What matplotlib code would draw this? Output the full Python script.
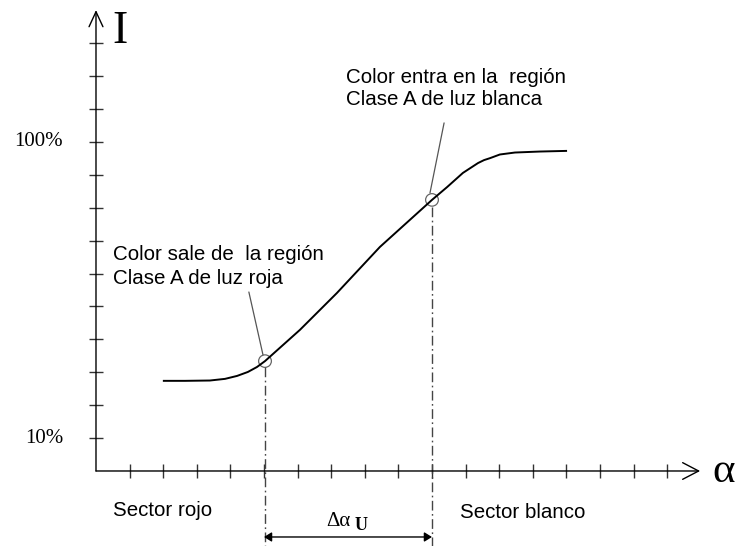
import matplotlib.pyplot as plt
from matplotlib.patches import Circle

# unidades: divisiones de los ejes (marcas)
curve_x = [1.99, 2.65, 3.39, 3.84, 4.20, 4.52, 4.79, 5.03, 6.07, 7.17, 8.45,
           10.00, 10.45, 10.92, 11.16, 11.37, 11.55, 11.73, 12.02, 12.47, 13.21, 14.02]
curve_y = [2.74, 2.74, 2.75, 2.80, 2.89, 3.01, 3.16, 3.34, 4.29, 5.41, 6.81,
           8.24, 8.63, 9.06, 9.22, 9.36, 9.45, 9.51, 9.62, 9.68, 9.71, 9.73]

x_ticks = list(range(1, 18))
y_ticks = list(range(1, 14))
y_labels = {1: '10%', 10: '100%'}

# puntos donde el color cambia de region
p_rojo = (5.03, 3.34)
p_blanco = (10.0, 8.24)

serif = 'Liberation Serif'
sans = 'Liberation Sans'

fig = plt.figure(figsize=(7.36, 5.46), dpi=100)
ax = fig.add_axes([0, 0, 1, 1])
ax.set_xlim(-2.857, 19.048)
ax.set_ylim(-2.280, 14.316)
ax.set_axis_off()

# ejes con flecha abierta
ax.annotate('', xy=(0, 14.01), xytext=(0, 0),
            arrowprops=dict(arrowstyle='->,head_length=1.08,head_width=0.5',
                            lw=1.0, color='black', shrinkA=0, shrinkB=0))
ax.annotate('', xy=(17.98, 0), xytext=(0, 0),
            arrowprops=dict(arrowstyle='->,head_length=1.15,head_width=0.6',
                            lw=1.0, color='black', shrinkA=0, shrinkB=0))

# marcas
ax.hlines(y_ticks, -0.21, 0.21, color='#333333', lw=1.0)
ax.vlines(x_ticks, -0.21, 0.21, color='#333333', lw=1.0)
for t, lab in y_labels.items():
    ax.text(-0.98, t, lab, ha='right', va='center', fontsize=15, family=serif)

ax.text(0.48, 13.01, 'I', fontsize=33, family=serif, va='baseline', ha='left')
ax.text(18.33, -0.33, 'α', fontsize=31, family=serif, va='baseline', ha='left')

# curva
ax.plot(curve_x, curve_y, color='black', lw=1.4, solid_capstyle='butt',
        solid_joinstyle='round')

# circulos marcadores
for p in (p_rojo, p_blanco):
    ax.add_patch(Circle(p, 0.19, fill=False, ec='#666666', lw=0.9))

# lineas de referencia punto-raya
dash = (0, (7, 2.5, 1.2, 2.5))
ax.plot([p_rojo[0], p_rojo[0]], [p_rojo[1] - 0.19, -2.28], color='#444444',
        lw=1.0, linestyle=dash)
ax.plot([p_blanco[0], p_blanco[0]], [p_blanco[1] - 0.21, -2.28], color='#444444',
        lw=1.0, linestyle=dash)

# flechas indicadoras
ax.annotate('', xy=(4.97, 3.53), xytext=(4.55, 5.44),
            arrowprops=dict(arrowstyle='-', lw=0.9, color='#555555',
                            shrinkA=0, shrinkB=0))
ax.annotate('', xy=(9.94, 8.45), xytext=(10.36, 10.58),
            arrowprops=dict(arrowstyle='-', lw=0.9, color='#555555',
                            shrinkA=0, shrinkB=0))

# textos
fs = 14.8
ax.text(7.44, 11.79, 'Color entra en la  región', fontsize=fs, family=sans, va='baseline')
ax.text(7.44, 11.13, 'Clase A de luz blanca', fontsize=fs, family=sans, va='baseline')
ax.text(0.51, 6.41, 'Color sale de  la región', fontsize=fs, family=sans, va='baseline')
ax.text(0.51, 5.68, 'Clase A de luz roja', fontsize=fs, family=sans, va='baseline')
ax.text(0.51, -1.37, 'Sector rojo', fontsize=fs, family=sans, va='baseline')
ax.text(10.83, -1.43, 'Sector blanco', fontsize=fs, family=sans, va='baseline')

# delta alfa U
ax.annotate('', xy=(p_rojo[0] - 0.03, -2.006), xytext=(p_blanco[0], -2.006),
            arrowprops=dict(arrowstyle='<|-|>,head_length=0.45,head_width=0.28',
                            lw=1.0, color='black', shrinkA=0, shrinkB=0))
ax.text(6.85, -1.67, 'Δα', fontsize=15, family=serif, va='baseline')
ax.text(7.71, -1.79, 'U', fontsize=13, family=serif, va='baseline', weight='bold')

fig.savefig('out.png', dpi=100)
